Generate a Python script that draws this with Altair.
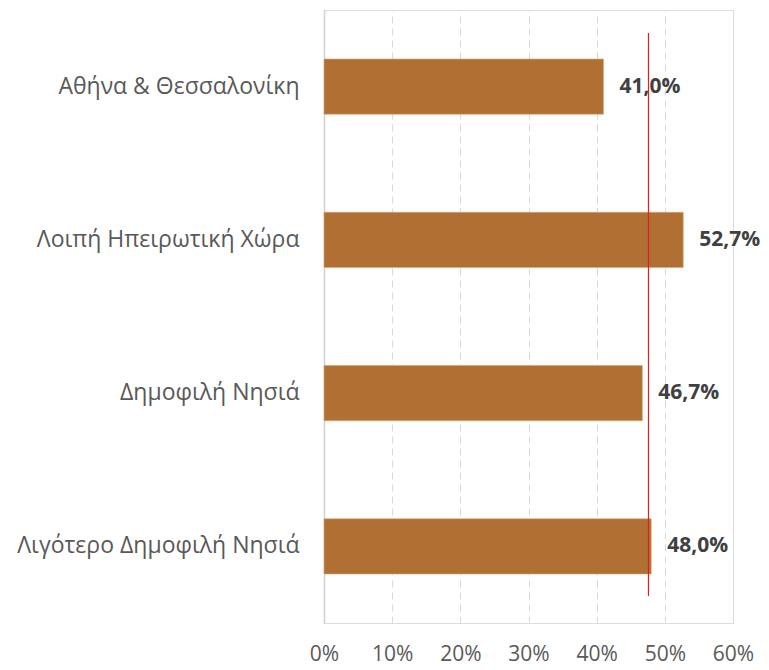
import altair as alt
import pandas as pd

categories = ["Αθήνα & Θεσσαλονίκη", "Λοιπή Ηπειρωτική Χώρα", "Δημοφιλή Νησιά", "Λιγότερο Δημοφιλή Νησιά"]
values = [41.0, 52.7, 46.7, 48.0]
average = 47.6
x_ticks = [0, 10, 20, 30, 40, 50, 60]

df = pd.DataFrame({
    "cat": categories,
    "value": values,
    "label": [f"{v:.1f}".replace(".", ",") + "%" for v in values],
})
avg_df = pd.DataFrame({"avg": [average]})

FONT = "Open Sans"

x_scale = alt.Scale(domain=[0, 60], nice=False)
y_scale = alt.Scale(domain=categories, paddingInner=0.64, paddingOuter=0.32)

base = alt.Chart(df)

bars = base.mark_bar(color="#B07034", stroke="#D9A66E", strokeWidth=0.6).encode(
    x=alt.X("value:Q", scale=x_scale,
            axis=alt.Axis(values=x_ticks, labelExpr="datum.value + '%'", title=None,
                          grid=True, gridDash=[7, 5], gridColor="#D9D9D9", gridWidth=1,
                          domain=False, ticks=False, labelPadding=20, labelFlush=False,
                          labelFont=FONT, labelFontSize=21, labelColor="#595959")),
    y=alt.Y("cat:N", scale=y_scale, sort=categories,
            axis=alt.Axis(title=None, ticks=False, domain=True, domainColor="#D0D0D0",
                          domainWidth=1.5, labelPadding=25, labelFont=FONT,
                          labelFontSize=23, labelColor="#595959", labelLimit=400)),
)

text = base.mark_text(align="left", dx=16, fontWeight="bold", font=FONT,
                      fontSize=21, color="#404040").encode(
    x=alt.X("value:Q", scale=x_scale),
    y=alt.Y("cat:N", scale=y_scale, sort=categories),
    text="label:N",
)

rule = alt.Chart(avg_df).mark_rule(color="#E02020", strokeWidth=1.2).encode(
    x=alt.X("avg:Q", scale=x_scale),
    y=alt.value(23),
    y2=alt.value(586),
)

chart = alt.layer(bars, text, rule).properties(
    width=409, height=613,
    autosize=alt.AutoSizeParams(type="none"),
    padding={"left": 316, "top": 2, "right": 28, "bottom": 52},
).configure_view(strokeWidth=0, stroke="transparent").configure(background="white")

chart.save("out.html", embed_options={"renderer": "svg", "actions": False})
